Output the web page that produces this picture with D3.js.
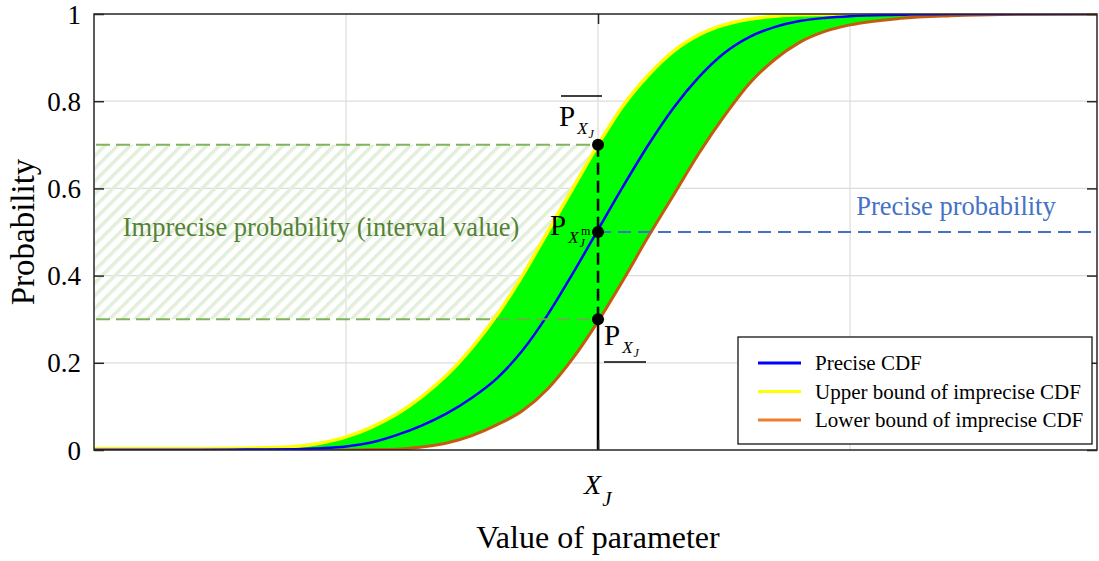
<!DOCTYPE html>
<html>
<head>
<meta charset="utf-8">
<script src="https://cdn.jsdelivr.net/npm/d3@7"></script>
<style>
  body { margin: 0; background: #fff; }
  text { font-family: "Liberation Serif", "Times New Roman", serif; }
</style>
</head>
<body>
<div id="chart"></div>
<script>
/* Precise vs. imprecise CDF sketch. */

// x positions (parameter value, arbitrary units; X_J sits at 2)
var xValues = [0, 0.4, 0.6, 0.8, 0.9, 1.0, 1.1, 1.2, 1.3, 1.4, 1.5, 1.6, 1.7, 1.8, 1.9,
  2.0, 2.1, 2.2, 2.3, 2.4, 2.5, 2.6, 2.7, 2.8, 2.9, 3.0, 3.2, 3.4, 3.6, 3.98];

var upperCdf = [0.003, 0.003, 0.004, 0.008, 0.016, 0.03, 0.052, 0.082, 0.122, 0.172, 0.235, 0.31, 0.40, 0.50, 0.60,
  0.70, 0.79, 0.86, 0.915, 0.952, 0.975, 0.988, 0.995, 0.998, 0.999, 1.0, 1.0, 1.0, 1.0, 1.0];

var preciseCdf = [0, 0, 0.001, 0.002, 0.004, 0.008, 0.017, 0.034, 0.056, 0.084, 0.12, 0.165, 0.228, 0.31, 0.405,
  0.505, 0.605, 0.70, 0.785, 0.855, 0.91, 0.947, 0.97, 0.984, 0.991, 0.995, 0.998, 1.0, 1.0, 1.0];

var lowerCdf = [0, 0, 0, 0, 0, 0, 0.001, 0.002, 0.007, 0.016, 0.033, 0.058, 0.09, 0.14, 0.21,
  0.295, 0.39, 0.49, 0.585, 0.68, 0.765, 0.84, 0.895, 0.935, 0.96, 0.975, 0.99, 0.996, 0.999, 1.0];

var yTicks = [0, 0.2, 0.4, 0.6, 0.8, 1];
var xGrid = [1, 2, 3];
var xJ = 2;
var probUpper = 0.7, probPrecise = 0.5, probLower = 0.3;

var legendNames = ["Precise CDF", "Upper bound of imprecise CDF", "Lower bound of imprecise CDF"];
var legendColors = ["#0000ff", "#ffff00", "#ed7d31"];

var width = 1099,
  height = 561,
  margin = {top: 14, right: 2, bottom: 111, left: 94},
  innerW = width - margin.left - margin.right,
  innerH = height - margin.top - margin.bottom;

var svg = d3.select("#chart").append("svg")
  .attr("width", width)
  .attr("height", height);

// hatch pattern for the imprecise interval
var defs = svg.append("defs");
defs.append("pattern")
  .attr("id", "hatch")
  .attr("patternUnits", "userSpaceOnUse")
  .attr("width", 9)
  .attr("height", 9)
  .attr("patternTransform", "rotate(45)")
  .append("rect")
  .attr("x", 0).attr("y", 0)
  .attr("width", 3.5).attr("height", 9)
  .attr("fill", "#e2efda");

defs.append("clipPath").attr("id", "plotClip")
  .append("rect").attr("width", innerW).attr("height", innerH);

var g = svg.append("g")
  .attr("transform", "translate(" + margin.left + "," + margin.top + ")");

var x = d3.scaleLinear().domain([0, 3.98]).range([0, innerW]);
var y = d3.scaleLinear().domain([0, 1]).range([innerH, 0]);

// grid
g.append("g").selectAll("line").data(yTicks.slice(1, -1)).enter().append("line")
  .attr("x1", 0).attr("x2", innerW)
  .attr("y1", function (d) { return y(d); })
  .attr("y2", function (d) { return y(d); })
  .attr("stroke", "#dcdcdc").attr("stroke-width", 1.2);

g.append("g").selectAll("line").data(xGrid).enter().append("line")
  .attr("y1", 0).attr("y2", innerH)
  .attr("x1", function (d) { return x(d); })
  .attr("x2", function (d) { return x(d); })
  .attr("stroke", "#dcdcdc").attr("stroke-width", 1.2);

// imprecise interval: hatched band
g.append("rect")
  .attr("x", x(0) + 1)
  .attr("y", y(probUpper))
  .attr("width", x(xJ) - x(0))
  .attr("height", y(probLower) - y(probUpper))
  .attr("fill", "url(#hatch)");

var plot = g.append("g").attr("clip-path", "url(#plotClip)");

// band between bounds
var band = d3.area()
  .x(function (d, i) { return x(xValues[i]); })
  .y0(function (d, i) { return y(lowerCdf[i]); })
  .y1(function (d, i) { return y(upperCdf[i]); })
  .curve(d3.curveMonotoneX);

plot.append("path")
  .datum(xValues)
  .attr("d", band)
  .attr("fill", "#00ff00");

function cdfLine(values) {
  return d3.line()
    .x(function (d, i) { return x(xValues[i]); })
    .y(function (d) { return y(d); })
    .curve(d3.curveMonotoneX)(values);
}

plot.append("path").attr("d", cdfLine(upperCdf))
  .attr("fill", "none").attr("stroke", "#ffff00").attr("stroke-width", 3.5);
plot.append("path").attr("d", cdfLine(lowerCdf))
  .attr("fill", "none").attr("stroke", "#c55a11").attr("stroke-width", 3);
plot.append("path").attr("d", cdfLine(preciseCdf))
  .attr("fill", "none").attr("stroke", "#0000ff").attr("stroke-width", 2.5);

// dashed bounds of the interval and the precise level
[probUpper, probLower].forEach(function (p) {
  g.append("line")
    .attr("x1", x(0) + 2).attr("x2", x(xJ))
    .attr("y1", y(p)).attr("y2", y(p))
    .attr("stroke", "#70ad47").attr("stroke-width", 2)
    .attr("stroke-opacity", 0.9)
    .attr("stroke-dasharray", "14,6");
});

g.append("line")
  .attr("x1", x(xJ)).attr("x2", innerW)
  .attr("y1", y(probPrecise)).attr("y2", y(probPrecise))
  .attr("stroke", "#4472c4").attr("stroke-width", 2)
  .attr("stroke-dasharray", "13,7");

// vertical marker at X_J
g.append("line")
  .attr("x1", x(xJ)).attr("x2", x(xJ))
  .attr("y1", y(probUpper)).attr("y2", y(probLower))
  .attr("stroke", "#000").attr("stroke-width", 2.5)
  .attr("stroke-dasharray", "12,6");
g.append("line")
  .attr("x1", x(xJ)).attr("x2", x(xJ))
  .attr("y1", y(probLower)).attr("y2", innerH)
  .attr("stroke", "#000").attr("stroke-width", 2.5);

g.selectAll(".dot").data([probUpper, probPrecise, probLower]).enter().append("circle")
  .attr("class", "dot")
  .attr("cx", x(xJ))
  .attr("cy", function (d) { return y(d); })
  .attr("r", 6)
  .attr("fill", "#000");

// P labels
function pLabel(px, py, sup) {
  var t = g.append("text").attr("x", px).attr("y", py)
    .attr("font-size", 29).attr("fill", "#000");
  t.append("tspan").text("P");
  t.append("tspan").attr("font-size", 17).attr("font-style", "italic")
    .attr("dy", 8).attr("dx", 2).text("X");
  t.append("tspan").attr("font-size", 12).attr("font-style", "italic")
    .attr("dy", 4).attr("dx", 1).text("J");
  if (sup) {
    t.append("tspan").attr("font-size", 12)
      .attr("dy", -12).attr("dx", -4).text("m");
  }
  return t;
}

pLabel(x(xJ) - 39, y(probUpper) - 19);
g.append("line")
  .attr("x1", x(xJ) - 37).attr("x2", x(xJ) + 4)
  .attr("y1", 82).attr("y2", 82)
  .attr("stroke", "#000").attr("stroke-width", 1.5);

pLabel(x(xJ) - 48, y(probPrecise) + 3, true);

pLabel(x(xJ) + 6, y(probLower) + 26);
g.append("line")
  .attr("x1", x(xJ) + 6).attr("x2", x(xJ) + 48)
  .attr("y1", 348).attr("y2", 348)
  .attr("stroke", "#000").attr("stroke-width", 1.5);

// annotations
g.append("text")
  .attr("x", x(xJ) / 2 - 25)
  .attr("y", y(0.5) + 4)
  .attr("text-anchor", "middle")
  .attr("font-size", 26.5)
  .attr("fill", "#548235")
  .text("Imprecise probability (interval value)");

g.append("text")
  .attr("x", x(3) + 106)
  .attr("y", y(probPrecise) - 17)
  .attr("text-anchor", "middle")
  .attr("font-size", 26.5)
  .attr("fill", "#4472c4")
  .text("Precise probability");

// axes box and ticks
var axisColor = "#262626";
g.append("rect")
  .attr("width", innerW).attr("height", innerH)
  .attr("fill", "none").attr("stroke", axisColor).attr("stroke-width", 1.5);

g.append("g")
  .call(d3.axisLeft(y).tickValues(yTicks).tickSize(-10).tickPadding(13)
    .tickFormat(function (d) { return d === 0 || d === 1 ? d3.format("d")(d) : d3.format(".1f")(d); }))
  .call(function (a) {
    a.select(".domain").remove();
    a.selectAll("line").attr("stroke", axisColor).attr("stroke-width", 1.5);
    a.selectAll("text").attr("font-size", 27).attr("fill", "#000")
      .attr("font-family", "Liberation Serif").attr("dy", "0.34em");
  });

g.append("g")
  .attr("transform", "translate(" + innerW + ",0)")
  .call(d3.axisRight(y).tickValues(yTicks).tickSize(-10).tickFormat(""))
  .call(function (a) {
    a.select(".domain").remove();
    a.selectAll("line").attr("stroke", axisColor).attr("stroke-width", 1.5);
  });

g.append("g")
  .attr("transform", "translate(0," + innerH + ")")
  .call(d3.axisBottom(x).tickValues([xJ]).tickSize(-10).tickFormat(""))
  .call(function (a) {
    a.select(".domain").remove();
    a.selectAll("line").attr("stroke", axisColor).attr("stroke-width", 1.5);
  });

g.append("g")
  .call(d3.axisTop(x).tickValues([xJ]).tickSize(-10).tickFormat(""))
  .call(function (a) {
    a.select(".domain").remove();
    a.selectAll("line").attr("stroke", axisColor).attr("stroke-width", 1.5);
  });

// X_J tick label
var xl = g.append("text")
  .attr("x", x(xJ) - 14)
  .attr("y", innerH + 44)
  .attr("font-size", 28)
  .attr("font-style", "italic")
  .attr("fill", "#000");
xl.append("tspan").text("X");
xl.append("tspan").attr("font-size", 21).attr("dy", 12).attr("dx", 1).text("J");

// axis titles
svg.append("text")
  .attr("x", margin.left + x(xJ))
  .attr("y", 548)
  .attr("text-anchor", "middle")
  .attr("font-size", 32)
  .attr("fill", "#000")
  .text("Value of parameter");

svg.append("text")
  .attr("transform", "translate(34," + (margin.top + innerH / 2) + ") rotate(-90)")
  .attr("text-anchor", "middle")
  .attr("font-size", 33)
  .attr("fill", "#000")
  .text("Probability");

// legend
var legend = g.append("g")
  .attr("transform", "translate(" + (738 - margin.left) + "," + (337 - margin.top) + ")");

legend.append("rect")
  .attr("width", 354).attr("height", 107)
  .attr("fill", "#fff").attr("stroke", "#000").attr("stroke-width", 1.2);

var keys = legend.selectAll(".key").data(legendNames).enter().append("g")
  .attr("class", "key")
  .attr("transform", function (d, i) { return "translate(0," + (26 + i * 28.5) + ")"; });

keys.append("line")
  .attr("x1", 20).attr("x2", 63)
  .attr("stroke", function (d, i) { return legendColors[i]; })
  .attr("stroke-width", 3);

keys.append("text")
  .attr("x", 77).attr("dy", "0.35em")
  .attr("font-size", 21)
  .attr("fill", "#000")
  .text(function (d) { return d; });
</script>
</body>
</html>
